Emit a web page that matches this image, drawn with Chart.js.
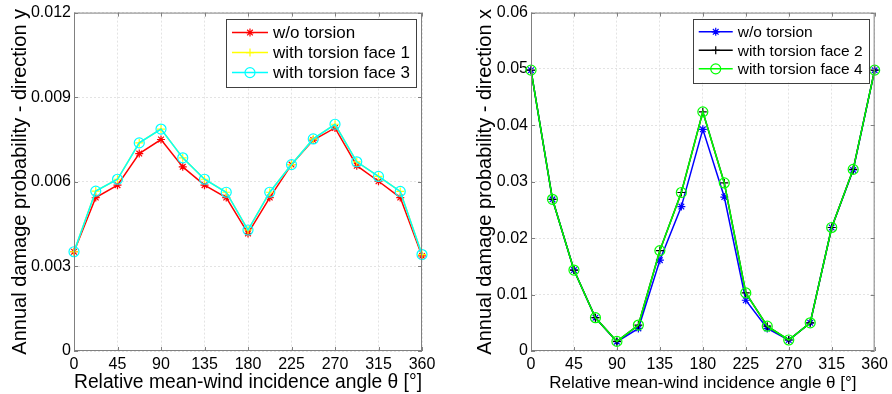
<!DOCTYPE html>
<html>
<head>
<meta charset="utf-8">
<script src="https://cdn.jsdelivr.net/npm/chart.js@4/dist/chart.umd.min.js"></script>
<style>
  body { margin: 0; background: #fff; }
  .box { position: absolute; top: 0; width: 446px; height: 394px; }
</style>
</head>
<body>
<div class="box" style="left:0"><canvas id="chartY"></canvas></div>
<div class="box" style="left:446px"><canvas id="chartX"></canvas></div>
<script>
// incidence angles (deg)
const angles = [0, 22.5, 45, 67.5, 90, 112.5, 135, 157.5, 180, 202.5, 225, 247.5, 270, 292.5, 315, 337.5, 360];
const angleTicks = [0, 45, 90, 135, 180, 225, 270, 315, 360];

// direction y
const yNoTorsion = [0.00352, 0.00544, 0.00588, 0.00700, 0.00750, 0.00653, 0.00588, 0.00544, 0.00417, 0.00544, 0.00661, 0.00748, 0.00791, 0.00657, 0.00602, 0.00544, 0.00337];
const yFace1 = [0.00352, 0.00567, 0.00609, 0.00738, 0.00787, 0.00685, 0.00609, 0.00563, 0.00429, 0.00563, 0.00661, 0.00752, 0.00804, 0.00671, 0.00619, 0.00566, 0.00342];
const yFace3 = [0.00352, 0.00567, 0.00609, 0.00738, 0.00787, 0.00685, 0.00609, 0.00563, 0.00429, 0.00563, 0.00661, 0.00752, 0.00804, 0.00671, 0.00619, 0.00566, 0.00342];
const yTicks = [0, 0.003, 0.006, 0.009, 0.012];

// direction x
const xNoTorsion = [0.0498, 0.0269, 0.01435, 0.0059, 0.00165, 0.0040, 0.0161, 0.0256, 0.0393, 0.0273, 0.0090, 0.0040, 0.00195, 0.0050, 0.0219, 0.0321, 0.0498];
const xFace2 = [0.0498, 0.0269, 0.01435, 0.0059, 0.0017, 0.0046, 0.0178, 0.0281, 0.0424, 0.0298, 0.0103, 0.0044, 0.00195, 0.0050, 0.0219, 0.0322, 0.0498];
const xFace4 = [0.0498, 0.0269, 0.01435, 0.0059, 0.0017, 0.0046, 0.0178, 0.0281, 0.0424, 0.0298, 0.0103, 0.0044, 0.00195, 0.0050, 0.0219, 0.0322, 0.0498];
const xTicks = [0, 0.01, 0.02, 0.03, 0.04, 0.05, 0.06];

const fontFamily = '"Liberation Sans", Arial, Helvetica, sans-serif';

function pts(vals) {
    return angles.map(function (a, i) { return { x: a, y: vals[i] }; });
}

function series(label, vals, color, style, order) {
    return {
        label: label,
        data: pts(vals),
        borderColor: color,
        backgroundColor: 'rgba(0,0,0,0)',
        borderWidth: 1.5,
        pointStyle: style,
        pointRadius: style === 'circle' ? 5 : 4,
        pointBorderWidth: 1.2,
        pointBorderColor: color,
        pointBackgroundColor: 'rgba(0,0,0,0)',
        tension: 0,
        clip: false,
        order: order
    };
}

// box, inside ticks and legend like the matlab figure
const framePlugin = {
    id: 'frame',
    afterDatasetsDraw(chart, args, opts) {
        const ctx = chart.ctx;
        const a = chart.chartArea;
        const xs = chart.scales.x, ys = chart.scales.y;
        ctx.save();
        ctx.strokeStyle = '#808080';
        ctx.lineWidth = 1;
        ctx.strokeRect(a.left + 0.5, a.top + 0.5, a.right - a.left - 1, a.bottom - a.top - 1);
        ctx.beginPath();
        angleTicks.forEach(function (t) {
            const px = Math.round(xs.getPixelForValue(t)) + 0.5;
            ctx.moveTo(px, a.bottom); ctx.lineTo(px, a.bottom - 4);
            ctx.moveTo(px, a.top); ctx.lineTo(px, a.top + 4);
        });
        opts.yTicks.forEach(function (t) {
            const py = Math.round(ys.getPixelForValue(t)) + 0.5;
            ctx.moveTo(a.left, py); ctx.lineTo(a.left + 4, py);
            ctx.moveTo(a.right, py); ctx.lineTo(a.right - 4, py);
        });
        ctx.stroke();

        // legend
        const ds = chart.data.datasets;
        ctx.font = opts.legendFont + 'px ' + fontFamily;
        let tw = 0;
        ds.forEach(function (d) { tw = Math.max(tw, ctx.measureText(d.label).width); });
        const sample = opts.sampleLen;
        const w = 6 + sample + 5 + tw + 6;
        const h = ds.length * opts.rowH + 8;
        const bx = a.right - 6 - w, by = a.top + 6;
        ctx.fillStyle = '#fff';
        ctx.fillRect(bx, by, w, h);
        ctx.strokeStyle = '#404040';
        ctx.strokeRect(Math.round(bx) + 0.5, Math.round(by) + 0.5, Math.round(w), Math.round(h));
        // legend entries drawn in dataset index order
        const sorted = ds.slice().sort(function (p, q) { return q.order - p.order; });
        sorted.forEach(function (d, i) {
            const cy = by + 4 + opts.rowH * (i + 0.5);
            const x0 = bx + 6;
            ctx.strokeStyle = d.borderColor;
            ctx.lineWidth = 1.5;
            ctx.beginPath();
            ctx.moveTo(x0, cy); ctx.lineTo(x0 + sample, cy);
            ctx.stroke();
            ctx.lineWidth = 1.2;
            ctx.fillStyle = 'rgba(0,0,0,0)';
            Chart.helpers.drawPoint(ctx, {
                pointStyle: d.pointStyle, radius: d.pointRadius, rotation: 0, borderWidth: 1.2
            }, x0 + sample / 2, cy);
            ctx.fillStyle = '#000';
            ctx.textBaseline = 'middle';
            ctx.textAlign = 'left';
            ctx.fillText(d.label, x0 + sample + 5, cy + 1);
        });
        ctx.restore();
    }
};

function makeChart(id, datasets, ymax, ticks, cfg) {
    return new Chart(document.getElementById(id), {
        type: 'line',
        data: { datasets: datasets },
        plugins: [framePlugin],
        options: {
            responsive: true,
            maintainAspectRatio: false,
            animation: false,
            layout: { padding: { top: 12, right: cfg.right, left: 0, bottom: 0 } },
            plugins: {
                legend: { display: false },
                tooltip: { enabled: false },
                frame: { yTicks: ticks, legendFont: cfg.legendFont, rowH: cfg.rowH, sampleLen: cfg.sampleLen }
            },
            scales: {
                x: {
                    type: 'linear',
                    min: 0, max: 360,
                    afterBuildTicks: function (s) { s.ticks = angleTicks.map(function (v) { return { value: v }; }); },
                    afterFit: function (s) { s.height = 43; },
                    grid: { color: '#e3e3e3', drawTicks: false },
                    border: { display: false, dash: [2, 2] },
                    ticks: { color: '#000', padding: 4, maxRotation: 0, font: { family: fontFamily, size: 16 } },
                    title: {
                        display: true, text: 'Relative mean-wind incidence angle θ [°]', color: '#000',
                        font: { family: fontFamily, size: cfg.xTitleSize }, padding: { top: 1, bottom: 0 }
                    }
                },
                y: {
                    type: 'linear',
                    min: 0, max: ymax,
                    afterBuildTicks: function (s) { s.ticks = ticks.map(function (v) { return { value: v }; }); },
                    afterFit: function (s) { s.width = cfg.yWidth; },
                    grid: { color: '#e3e3e3', drawTicks: false },
                    border: { display: false, dash: [2, 2] },
                    ticks: {
                        color: '#000', padding: 3, font: { family: fontFamily, size: 16 },
                        callback: function (v) { return v === 0 ? '0' : String(+v.toFixed(4)); }
                    },
                    title: {
                        display: true, text: cfg.yTitle, color: '#000',
                        font: { family: fontFamily, size: 20 }, padding: { top: cfg.yTitlePad, bottom: 0 }
                    }
                }
            }
        }
    });
}

makeChart('chartY', [
    series('w/o torsion', yNoTorsion, '#ff0000', 'star', 3),
    series('with torsion face 1', yFace1, '#ffff00', 'cross', 2),
    series('with torsion face 3', yFace3, '#00ffff', 'circle', 1)
], 0.012, yTicks, {
    right: 24, yWidth: 74, yTitlePad: 8, xTitleSize: 20,
    yTitle: 'Annual damage probability - direction y',
    legendFont: 17, rowH: 20, sampleLen: 36
});

makeChart('chartX', [
    series('w/o torsion', xNoTorsion, '#0000ff', 'star', 3),
    series('with torsion face 2', xFace2, '#000000', 'cross', 2),
    series('with torsion face 4', xFace4, '#00ff00', 'circle', 1)
], 0.06, xTicks, {
    right: 14, yWidth: 85, yTitlePad: 27, xTitleSize: 17,
    yTitle: 'Annual damage probability - direction x',
    legendFont: 15.5, rowH: 18.5, sampleLen: 34
});
</script>
</body>
</html>
